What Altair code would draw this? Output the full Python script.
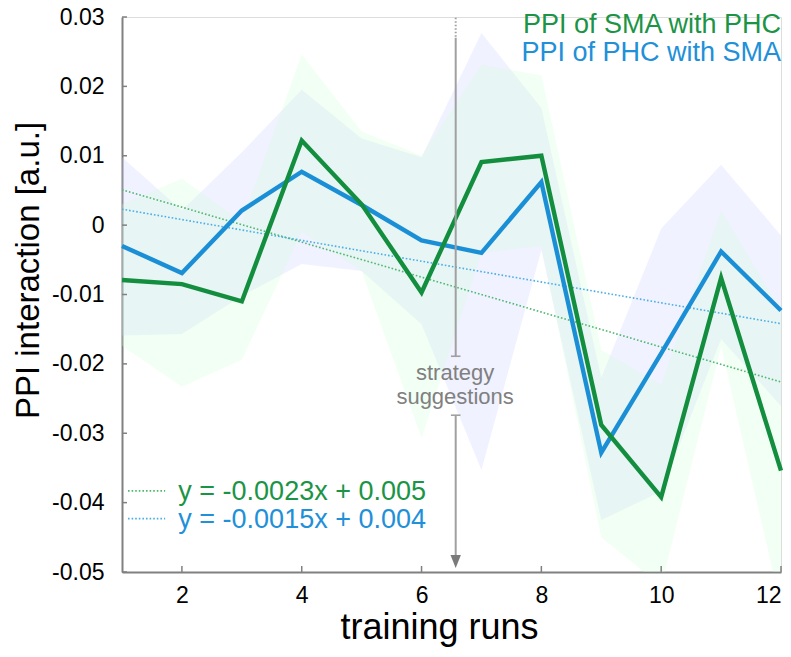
import altair as alt
import pandas as pd

# ---------------- data ----------------
runs = list(range(1, 13))

sma_phc = [-0.0079, -0.0085, -0.0110, 0.0122, 0.0030, -0.0097,
           0.0091, 0.0100, -0.0288, -0.0392, -0.0076, -0.0354]
sma_phc_lo = [-0.0174, -0.0233, -0.0194, -0.0010, -0.0066, -0.0307,
              -0.0040, -0.0030, -0.0450, -0.0520, -0.0175, -0.0550]
sma_phc_hi = [0.0030, 0.0067, 0.0005, 0.0246, 0.0135, 0.0100,
              0.0231, 0.0216, -0.0180, -0.0230, 0.0021, -0.0123]

phc_sma = [-0.0030, -0.0069, 0.0021, 0.0077, 0.0029, -0.0022,
           -0.0040, 0.0062, -0.0328, -0.0185, -0.0038, -0.0123]
phc_sma_lo = [-0.0159, -0.0157, -0.0102, -0.0056, -0.0066, -0.0143,
              -0.0353, -0.0036, -0.0425, -0.0384, -0.0164, -0.0261]
phc_sma_hi = [0.0098, 0.0021, 0.0105, 0.0195, 0.0125, 0.0098,
              0.0277, 0.0169, -0.0220, -0.0005, 0.0087, -0.0015]

trend_x = [1, 12]
trend_sma = [0.0051, -0.0226]
trend_phc = [0.0023, -0.0142]

x_ticks = [2, 4, 6, 8, 10, 12]
y_ticks = [-0.05, -0.04, -0.03, -0.02, -0.01, 0.0, 0.01, 0.02, 0.03]

legend_labels = ["PPI of SMA with PHC", "PPI of PHC with SMA"]
eq_labels = ["y = -0.0023x + 0.005", "y = -0.0015x + 0.004"]
strategy_lines = ["strategy", "suggestions"]
strategy_run = 6.57

# ---------------- styling ----------------
GREEN = "#138e3e"
BLUE = "#1b8fd6"
GREEN_T = "#1b9446"
BLUE_T = "#2190d8"
GREEN_DOT = "#4fb870"
BLUE_DOT = "#4aaee6"
GRAY = "#808080"
FONT = "Liberation Sans"
W, H = 659, 555

xs = alt.Scale(domain=[1, 12], nice=False, zero=False)
ys = alt.Scale(domain=[-0.05, 0.03], nice=False, zero=False)

x_axis = alt.Axis(values=x_ticks, title="training runs", ticks=False, grid=False,
                  labelFontSize=23, labelPadding=12, labelFont=FONT, labelColor="black",
                  titleFont=FONT, titleFontSize=36, titleFontWeight="normal", titleColor="black",
                  titleX=317, titleY=66, titleBaseline="alphabetic",
                  domainColor=GRAY, domainWidth=2)
y_axis = alt.Axis(values=y_ticks, title="PPI interaction [a.u.]", ticks=False, grid=False,
                  labelExpr="datum.value == 0 ? '0' : (datum.value < 0 ? '-' + format(-datum.value, '.2f') : format(datum.value, '.2f'))",
                  labelFontSize=23, labelPadding=18, labelFont=FONT, labelColor="black",
                  titleFont=FONT, titleFontSize=33, titleFontWeight="normal", titleColor="black",
                  titleX=-77, titleY=253, domainColor=GRAY, domainWidth=2)


def X(field):
    return alt.X(f"{field}:Q", scale=xs, axis=x_axis)


def Y(field):
    return alt.Y(f"{field}:Q", scale=ys, axis=y_axis)


sma_df = pd.DataFrame({"run": runs, "val": sma_phc, "lo": sma_phc_lo, "hi": sma_phc_hi})
phc_df = pd.DataFrame({"run": runs, "val": phc_sma, "lo": phc_sma_lo, "hi": phc_sma_hi})
trend_sma_df = pd.DataFrame({"run": trend_x, "val": trend_sma})
trend_phc_df = pd.DataFrame({"run": trend_x, "val": trend_phc})

band_phc = alt.Chart(phc_df).mark_area(color="#c6caff", opacity=0.24, clip=True).encode(
    x=X("run"), y=Y("lo"), y2="hi")
band_sma = alt.Chart(sma_df).mark_area(color="#cdffd4", opacity=0.26, clip=True).encode(
    x=X("run"), y=Y("lo"), y2="hi")

trend_g = alt.Chart(trend_sma_df).mark_line(color=GREEN_DOT, strokeWidth=1.6, strokeDash=[1.6, 2]).encode(
    x=X("run"), y=Y("val"))
trend_b = alt.Chart(trend_phc_df).mark_line(color=BLUE_DOT, strokeWidth=1.6, strokeDash=[1.6, 2]).encode(
    x=X("run"), y=Y("val"))

line_b = alt.Chart(phc_df).mark_line(color=BLUE, strokeWidth=4.4, strokeJoin="miter").encode(
    x=X("run"), y=Y("val"))
line_g = alt.Chart(sma_df).mark_line(color=GREEN, strokeWidth=4.4, strokeJoin="miter").encode(
    x=X("run"), y=Y("val"))

# manual inward ticks
ytick_df = pd.DataFrame({"t": y_ticks})
xtick_df = pd.DataFrame({"t": x_ticks})
yticks = alt.Chart(ytick_df).mark_rule(color=GRAY, strokeWidth=1.5).encode(
    y=Y("t"), x=alt.value(0), x2=alt.value(5))
xticks = alt.Chart(xtick_df).mark_rule(color=GRAY, strokeWidth=1.5).encode(
    x=X("t"), y=alt.value(H), y2=alt.value(H - 6))

# strategy arrow
arrow_seg = pd.DataFrame({"run": [strategy_run] * 2, "y1": [0.0270, -0.0274], "y2": [-0.0189, -0.0476]})
arrow_dot = pd.DataFrame({"run": [strategy_run], "y1": [0.0299], "y2": [0.0270]})
caps = pd.DataFrame({"a": [strategy_run - 0.08] * 2, "b": [strategy_run + 0.08] * 2, "y": [-0.0189, -0.0274]})
head = pd.DataFrame({"run": [strategy_run], "y": [-0.0485]})

ARROW = "#a0a0a0"
seg = alt.Chart(arrow_seg).mark_rule(color=ARROW, strokeWidth=2).encode(
    x=X("run"), y=Y("y1"), y2="y2")
dot = alt.Chart(arrow_dot).mark_rule(color=ARROW, strokeWidth=2, strokeDash=[1.5, 2]).encode(
    x=X("run"), y=Y("y1"), y2="y2")
cap = alt.Chart(caps).mark_rule(color=ARROW, strokeWidth=1.6).encode(
    x=X("a"), x2="b", y=Y("y"))
arrowhead = alt.Chart(head).mark_point(shape="M-0.8,-1L0.8,-1L0,1Z", size=169, filled=True,
                                       color="#7a7a7a", opacity=1).encode(x=X("run"), y=Y("y"))

strat_df = pd.DataFrame({"run": [strategy_run - 0.01] * 2, "y": [-0.02235, -0.0258], "t": strategy_lines})
strat_txt = alt.Chart(strat_df).mark_text(font=FONT, fontSize=22, color=GRAY, align="center",
                                          baseline="alphabetic").encode(x=X("run"), y=Y("y"), text="t:N")

# legend texts
leg_g = alt.Chart(pd.DataFrame({"run": [12], "y": [0.02765], "t": [legend_labels[0]]})).mark_text(
    font=FONT, fontSize=27, color=GREEN_T, align="right", baseline="alphabetic").encode(
    x=X("run"), y=Y("y"), text="t:N")
leg_b = alt.Chart(pd.DataFrame({"run": [12], "y": [0.02365], "t": [legend_labels[1]]})).mark_text(
    font=FONT, fontSize=27, color=BLUE_T, align="right", baseline="alphabetic").encode(
    x=X("run"), y=Y("y"), text="t:N")

# equation texts with dotted samples
eq_g = alt.Chart(pd.DataFrame({"run": [1.94], "y": [-0.0396], "t": [eq_labels[0]]})).mark_text(
    font=FONT, fontSize=27, color=GREEN_T, align="left", baseline="alphabetic").encode(
    x=X("run"), y=Y("y"), text="t:N")
eq_b = alt.Chart(pd.DataFrame({"run": [1.94], "y": [-0.0437], "t": [eq_labels[1]]})).mark_text(
    font=FONT, fontSize=27, color=BLUE_T, align="left", baseline="alphabetic").encode(
    x=X("run"), y=Y("y"), text="t:N")
samp_g = alt.Chart(pd.DataFrame({"a": [1.1], "b": [1.72], "y": [-0.0383]})).mark_rule(
    color=GREEN_DOT, strokeWidth=1.6, strokeDash=[1.6, 2]).encode(x=X("a"), x2="b", y=Y("y"))
samp_b = alt.Chart(pd.DataFrame({"a": [1.1], "b": [1.72], "y": [-0.0423]})).mark_rule(
    color=BLUE_DOT, strokeWidth=1.6, strokeDash=[1.6, 2]).encode(x=X("a"), x2="b", y=Y("y"))

chart = alt.layer(
    band_phc, band_sma, trend_g, trend_b, line_b, line_g,
    dot, seg, cap, arrowhead, strat_txt,
    leg_g, leg_b, eq_g, eq_b, samp_g, samp_b,
    yticks, xticks,
).properties(
    width=W, height=H,
    autosize=alt.AutoSizeParams(type="none"),
    padding={"left": 114, "top": 9, "right": 2, "bottom": 80},
).configure_view(stroke=None).configure(background="white")

chart.save("out.html", embed_options={"renderer": "svg", "actions": False})
